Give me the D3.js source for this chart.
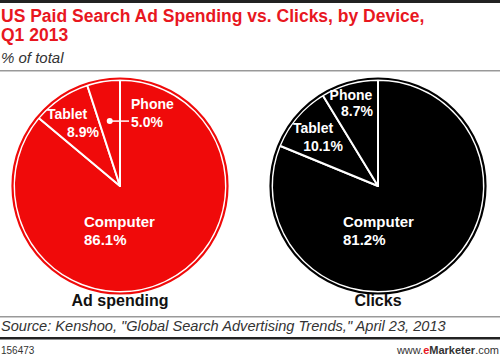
<!DOCTYPE html>
<html><head><meta charset="utf-8">
<script src="https://cdn.jsdelivr.net/npm/d3@7"></script>
<style>body{margin:0;background:#fff}svg{display:block}</style>
</head><body>
<script>
const devices = ["Computer", "Tablet", "Phone"];
const adSpending = [86.1, 8.9, 5.0];
const clicks = [81.2, 10.1, 8.7];
const pieTitles = ["Ad spending", "Clicks"];
const title = ["US Paid Search Ad Spending vs. Clicks, by Device,", "Q1 2013"];
const subtitle = "% of total";
const source = 'Source: Kenshoo, "Global Search Advertising Trends," April 23, 2013';
const chartId = "156473";

const W = 500, H = 359;
const svg = d3.select("body").append("svg").attr("width", W).attr("height", H);
const font = "'Liberation Sans', Arial, sans-serif";

// rules
svg.append("rect").attr("x",0).attr("y",0).attr("width",W).attr("height",3).attr("fill","#222");
svg.append("rect").attr("x",0).attr("y",70).attr("width",W).attr("height",1.5).attr("fill","#999");
svg.append("rect").attr("x",0).attr("y",316).attr("width",W).attr("height",1.5).attr("fill","#999");
svg.append("rect").attr("x",0).attr("y",337).attr("width",W).attr("height",2.5).attr("fill","#222");

svg.append("g").selectAll("text").data(title).join("text")
  .attr("x",1).attr("y",(d,i)=>22+i*19)
  .attr("font-family",font).attr("font-weight","bold").attr("font-size",17.5)
  .attr("fill","#e8171f").text(d=>d);
svg.append("text").attr("x",1).attr("y",63).attr("font-family",font)
  .attr("font-style","italic").attr("font-size",15).attr("fill","#333").text(subtitle);

const pie = d3.pie().sort(null).startAngle(0).endAngle(2*Math.PI);
const R = 106;
const arc = d3.arc().innerRadius(0).outerRadius(R);

const configs = [
  {vals: adSpending, cx: 120, cy: 186, color: "#f00a0a", title: pieTitles[0],
   labels: {
     Computer: {x: 84, y: 227, anchor: "start"},
     Tablet: {x: 67, y: 119, x2: 83, anchor: "middle"},
     Phone: {x: 131, y: 109, x2: 131, anchor: "start", leader: true}
   }},
  {vals: clicks, cx: 378, cy: 186, color: "#000000", title: pieTitles[1],
   labels: {
     Computer: {x: 343, y: 227, anchor: "start"},
     Tablet: {x: 313, y: 133, x2: 323, anchor: "middle"},
     Phone: {x: 351, y: 100, x2: 357, anchor: "middle", dy: 16}
   }}
];

configs.forEach(c => {
  const g = svg.append("g").attr("transform", `translate(${c.cx},${c.cy})`);
  const arcs = pie(c.vals);
  g.selectAll("path").data(arcs).join("path")
    .attr("d", arc).attr("fill", c.color)
    .attr("stroke", "#fff").attr("stroke-width", 2).attr("stroke-linejoin","round");
  g.append("circle").attr("r", R+1.5).attr("fill","none").attr("stroke",c.color).attr("stroke-width",2.2);

  arcs.forEach((a, i) => {
    const name = devices[i];
    const L = c.labels[name];
    const pct = c.vals[i].toFixed(1) + "%";
    const t = svg.append("text").attr("font-family",font).attr("font-weight","bold")
      .attr("font-size",name === "Computer" ? 15 : 14).attr("fill","#fff").attr("text-anchor",L.anchor);
    const dy = L.dy || 18;
    t.append("tspan").attr("x",L.x).attr("y",L.y).text(name);
    t.append("tspan").attr("x",L.x2 !== undefined ? L.x2 : L.x).attr("y",L.y+dy).text(pct);
    if (L.leader) {
      const p = d3.arc().innerRadius(R*0.62).outerRadius(R*0.62).centroid(a);
      const px = c.cx + p[0], py = c.cy + p[1];
      svg.append("circle").attr("cx",px).attr("cy",py).attr("r",3).attr("fill","#fff");
      svg.append("line").attr("x1",px).attr("y1",py).attr("x2",L.x-2).attr("y2",py)
        .attr("stroke","#fff").attr("stroke-width",1.5);
    }
  });

  svg.append("text").attr("x",c.cx).attr("y",306).attr("text-anchor","middle")
    .attr("font-family",font).attr("font-weight","bold").attr("font-size",16)
    .attr("fill","#111").text(c.title);
});

svg.append("text").attr("x",1).attr("y",331).attr("font-family",font)
  .attr("font-style","italic").attr("font-size",14.6).attr("fill","#333").text(source);
svg.append("text").attr("x",1).attr("y",354).attr("font-family",font)
  .attr("font-size",10).attr("fill","#333").text(chartId);
const site = svg.append("text").attr("x",W-1).attr("y",354).attr("text-anchor","end")
  .attr("font-family",font).attr("font-size",11).attr("fill","#333");
site.append("tspan").text("www.");
site.append("tspan").attr("fill","#e8171f").attr("font-weight","bold").text("e");
site.append("tspan").attr("font-weight","bold").text("Marketer");
site.append("tspan").text(".com");
</script>
</body></html>
